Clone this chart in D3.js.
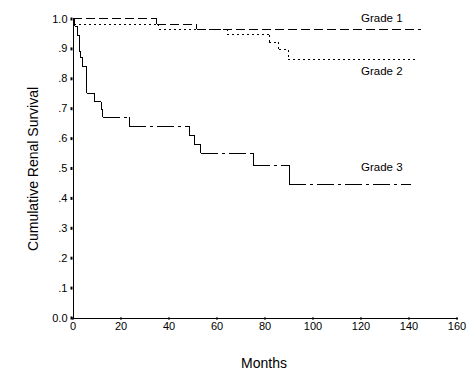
<!DOCTYPE html>
<html>
<head>
<meta charset="utf-8">
<script src="https://cdn.jsdelivr.net/npm/d3@7"></script>
<style>
  body { margin: 0; background: #fff; }
  svg { display: block; font-family: Arial, "Liberation Sans", sans-serif; }
</style>
</head>
<body>
<svg width="476" height="381"></svg>
<script>
// Kaplan-Meier steps (months, survival)
var grade1Months = [0, 35.1, 51.8, 145];
var grade1Surv   = [1.0, 0.981, 0.964, 0.964];

var grade2Months = [0, 0.5, 35.9, 64.4, 82.0, 86.0, 89.9, 143];
var grade2Surv   = [1.0, 0.981, 0.964, 0.945, 0.920, 0.895, 0.864, 0.864];

var grade3Months = [0, 0.9, 1.9, 2.8, 3.5, 4.25, 5.9, 9.1, 11.9, 12.6, 23.7, 48.7, 50.75, 53.5, 75.3, 90.3, 141];
var grade3Surv   = [1.0, 0.974, 0.944, 0.888, 0.868, 0.838, 0.750, 0.722, 0.696, 0.670, 0.640, 0.609, 0.580, 0.549, 0.509, 0.446, 0.446];

var xTicks = [0, 20, 40, 60, 80, 100, 120, 140, 160];
var yTicks = [0, 0.1, 0.2, 0.3, 0.4, 0.5, 0.6, 0.7, 0.8, 0.9, 1.0];
var yTickLabels = ['0.0', '.1', '.2', '.3', '.4', '.5', '.6', '.7', '.8', '.9', '1.0'];

var series = [
  { name: 'Grade 1', months: grade1Months, surv: grade1Surv, dash: '9,4', vdash: null, lx: 361, ly: 22 },
  { name: 'Grade 2', months: grade2Months, surv: grade2Surv, dash: '2,3', vdash: '2,3', lx: 361, ly: 75 },
  { name: 'Grade 3', months: grade3Months, surv: grade3Surv, dash: '17,4,3,4', vdash: null, lx: 361, ly: 171 }
];

var svg = d3.select('svg');

var x = d3.scaleLinear().domain([0, 160]).range([72.5, 456.5]);
var y = d3.scaleLinear().domain([0, 1]).range([317.5, 18.5]);

// axes
var xAxis = svg.append('g')
  .attr('transform', 'translate(0,' + y(0) + ')')
  .call(d3.axisBottom(x).tickValues(xTicks).tickSize(2).tickSizeOuter(0).tickPadding(3));
xAxis.select('.domain').attr('stroke', '#000').attr('shape-rendering', 'crispEdges');
xAxis.selectAll('.tick line').attr('stroke', '#000').attr('stroke-width', 2);
xAxis.selectAll('.tick text')
  .attr('fill', '#000')
  .style('font-size', '11px')
  .style('font-family', 'Arial, "Liberation Sans", sans-serif');

var yAxis = svg.append('g')
  .attr('transform', 'translate(' + x(0) + ',0)')
  .call(d3.axisLeft(y).tickValues(yTicks).tickSize(2).tickSizeOuter(0).tickPadding(3)
    .tickFormat(function(d, i) { return yTickLabels[i]; }));
yAxis.select('.domain').attr('stroke', '#000').attr('shape-rendering', 'crispEdges');
yAxis.selectAll('.tick line').attr('stroke', '#000').attr('stroke-width', 3);
yAxis.selectAll('.tick text')
  .attr('fill', '#000')
  .style('font-size', '11px')
  .style('font-family', 'Arial, "Liberation Sans", sans-serif');

// axis titles
svg.append('text')
  .attr('x', 264)
  .attr('y', 368)
  .attr('text-anchor', 'middle')
  .style('font-size', '14px')
  .text('Months');

svg.append('text')
  .attr('transform', 'translate(38,169) rotate(-90)')
  .attr('text-anchor', 'middle')
  .style('font-size', '14px')
  .text('Cumulative Renal Survival');

// step curves, each segment drawn on its own so the dash restarts like the original
series.forEach(function(s) {
  var g = svg.append('g').attr('class', 'curve');
  for (var i = 0; i < s.months.length - 1; i++) {
    g.append('line')
      .attr('x1', x(s.months[i]))
      .attr('x2', x(s.months[i + 1]))
      .attr('y1', y(s.surv[i]))
      .attr('y2', y(s.surv[i]))
      .attr('stroke', '#000')
      .attr('stroke-dasharray', s.dash)
      .attr('shape-rendering', 'crispEdges');
    if (s.surv[i + 1] !== s.surv[i]) {
      g.append('line')
        .attr('x1', x(s.months[i + 1]))
        .attr('x2', x(s.months[i + 1]))
        .attr('y1', y(s.surv[i]))
        .attr('y2', y(s.surv[i + 1]))
        .attr('stroke', '#000')
        .attr('stroke-dasharray', s.vdash)
        .attr('shape-rendering', 'crispEdges');
    }
  }
  svg.append('text')
    .attr('x', s.lx)
    .attr('y', s.ly)
    .style('font-size', '11.5px')
    .text(s.name);
});
</script>
</body>
</html>
